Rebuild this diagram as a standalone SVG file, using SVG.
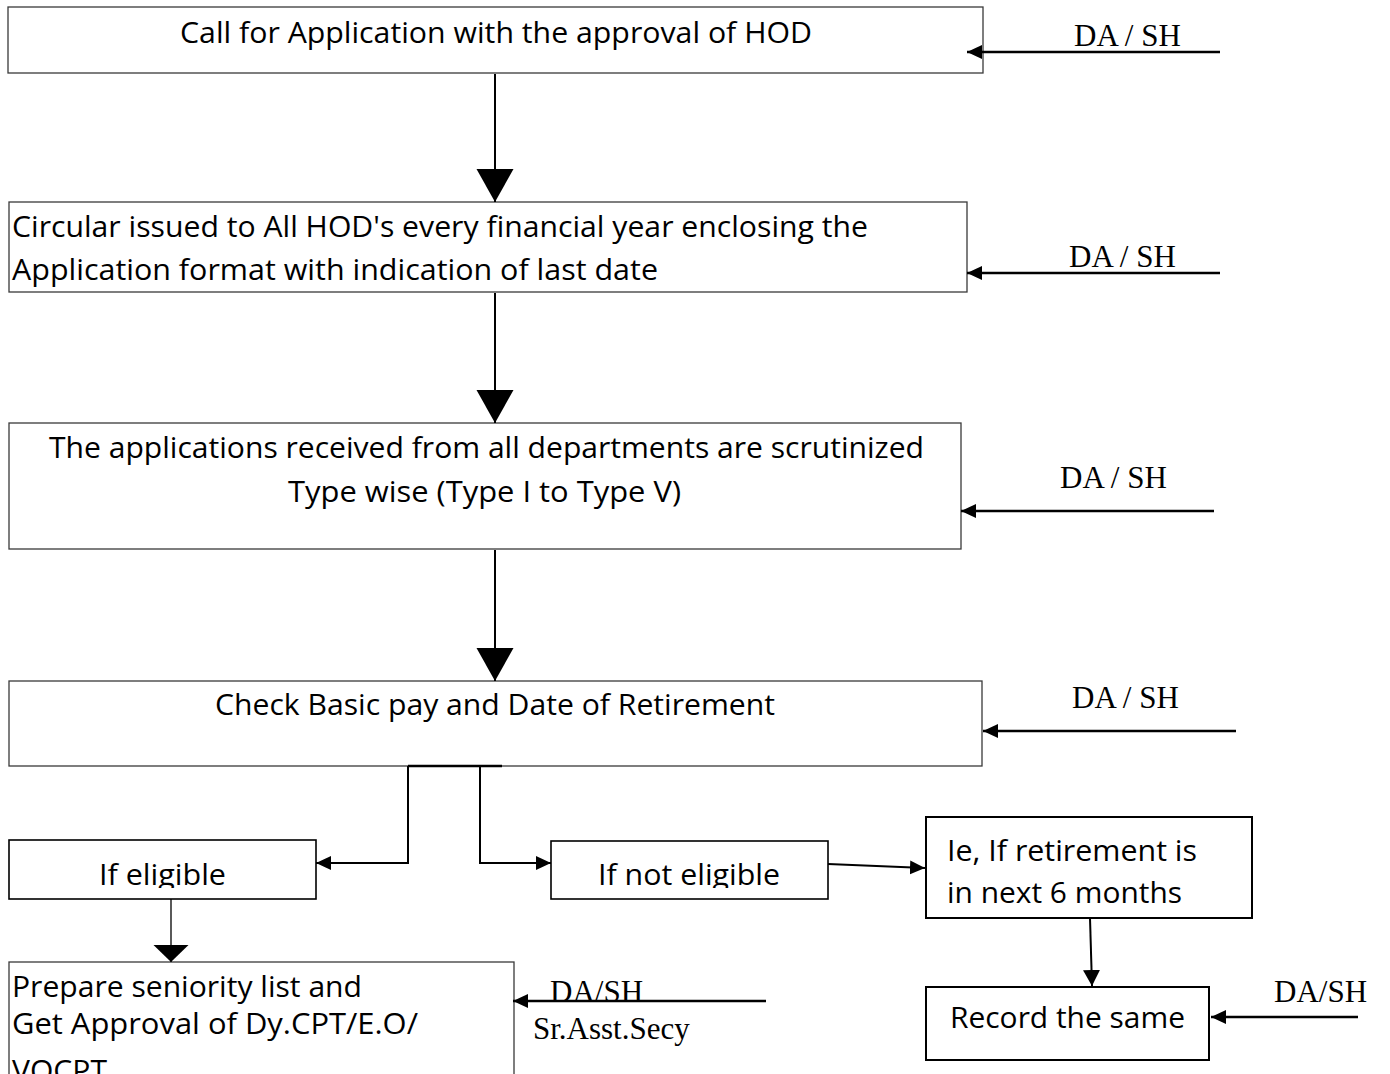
<svg xmlns="http://www.w3.org/2000/svg" width="1390" height="1074" viewBox="0 0 1390 1074">
<style>
.box{fill:#fff;stroke:#3a3a3a;stroke-width:1.3}
.boxb{fill:#fff;stroke:#000;stroke-width:2}
.t{font-family:"Open Sans","Liberation Sans",sans-serif;font-size:30px;fill:#000}
.s{font-family:"Liberation Serif","Times New Roman",serif;font-size:31px;fill:#000}
.c{fill:none;stroke:#000;stroke-width:2}
.cs{fill:none;stroke:#000;stroke-width:2.6}
</style>
<defs>
<marker id="big" markerUnits="userSpaceOnUse" markerWidth="34" markerHeight="38" refX="33" refY="18.5" orient="auto"><path d="M0,0 L33,18.5 L0,37 z" fill="#000"/></marker>
<marker id="med" markerUnits="userSpaceOnUse" markerWidth="18" markerHeight="36" refX="17" refY="17.5" orient="auto"><path d="M0,0 L17,17.5 L0,35 z" fill="#000"/></marker>
<marker id="sm" markerUnits="userSpaceOnUse" markerWidth="17" markerHeight="18" refX="16" refY="8.5" orient="auto"><path d="M0,0 L16,8.5 L0,17 z" fill="#000"/></marker>
<marker id="side" markerUnits="userSpaceOnUse" markerWidth="16" markerHeight="15" refX="15" refY="7" orient="auto"><path d="M0,0 L15,7 L0,14 z" fill="#000"/></marker>
<clipPath id="clipElig"><rect x="0" y="840" width="900" height="48"/></clipPath>
</defs>

<g id="node-call">
<rect class="box" x="8" y="7" width="975" height="66"/>
<text class="t" x="180" y="43" textLength="632" lengthAdjust="spacingAndGlyphs">Call for Application with the approval of HOD</text>
</g>
<g id="node-circular">
<rect class="box" x="9" y="202" width="958" height="90"/>
<text class="t" x="12" y="237" textLength="856" lengthAdjust="spacingAndGlyphs">Circular issued to All HOD's every financial year enclosing the</text>
<text class="t" x="12" y="280" textLength="646" lengthAdjust="spacingAndGlyphs">Application format with indication of last date</text>
</g>
<g id="node-scrutiny">
<rect class="box" x="9" y="423" width="952" height="126"/>
<text class="t" x="49" y="458" textLength="875" lengthAdjust="spacingAndGlyphs">The applications received from all departments are scrutinized</text>
<text class="t" x="288" y="502" textLength="393" lengthAdjust="spacingAndGlyphs">Type wise (Type I to Type V)</text>
</g>
<g id="node-check">
<rect class="box" x="9" y="681" width="973" height="85"/>
<text class="t" x="215" y="715" textLength="560" lengthAdjust="spacingAndGlyphs">Check Basic pay and Date of Retirement</text>
</g>
<g id="node-eligible">
<rect class="boxb" x="9" y="840" width="307" height="59" style="stroke-width:1.6"/>
<text class="t" x="99" y="885" textLength="127" lengthAdjust="spacingAndGlyphs" clip-path="url(#clipElig)">If eligible</text>
</g>
<g id="node-noteligible">
<rect class="boxb" x="551" y="841" width="277" height="58" style="stroke-width:1.6"/>
<text class="t" x="598" y="885" textLength="182" lengthAdjust="spacingAndGlyphs" clip-path="url(#clipElig)">If not eligible</text>
</g>
<g id="node-retirement">
<rect class="boxb" x="926" y="817" width="326" height="101"/>
<text class="t" x="947" y="861" textLength="250" lengthAdjust="spacingAndGlyphs">Ie, If retirement is</text>
<text class="t" x="947" y="903" textLength="235" lengthAdjust="spacingAndGlyphs">in next 6 months</text>
</g>
<g id="node-record">
<rect class="boxb" x="926" y="987" width="283" height="73"/>
<text class="t" x="950" y="1028" textLength="235" lengthAdjust="spacingAndGlyphs">Record the same</text>
</g>
<g id="node-prepare">
<rect class="box" x="9" y="962" width="505" height="140"/>
<text class="t" x="12" y="997" textLength="350" lengthAdjust="spacingAndGlyphs">Prepare seniority list and</text>
<text class="t" x="12" y="1034" textLength="406" lengthAdjust="spacingAndGlyphs">Get Approval of Dy.CPT/E.O/</text>
<text class="t" x="12" y="1081" textLength="95" lengthAdjust="spacingAndGlyphs">VOCPT</text>
</g>

<g id="connectors">
<line class="c" x1="495" y1="74" x2="495" y2="202" marker-end="url(#big)"/>
<line class="c" x1="495" y1="293" x2="495" y2="423" marker-end="url(#big)"/>
<line class="c" x1="495" y1="550" x2="495" y2="681" marker-end="url(#big)"/>
<line class="c" x1="408" y1="766" x2="502" y2="766" style="stroke-width:2.4"/>
<path class="c" d="M408,766 V863 H316" marker-end="url(#side)"/>
<path class="c" d="M480,766 V863 H551" marker-end="url(#side)"/>
<line class="c" x1="171" y1="899" x2="171" y2="962" style="stroke-width:1.3" marker-end="url(#med)"/>
<line class="c" x1="828" y1="864" x2="925" y2="868" marker-end="url(#side)"/>
<line class="c" x1="1090" y1="918" x2="1092" y2="986" marker-end="url(#sm)"/>
<line class="cs" x1="1220" y1="52" x2="967" y2="52" marker-end="url(#side)"/>
<line class="cs" x1="1220" y1="273" x2="967" y2="273" marker-end="url(#side)"/>
<line class="cs" x1="1214" y1="511" x2="961" y2="511" marker-end="url(#side)"/>
<line class="cs" x1="1236" y1="731" x2="983" y2="731" marker-end="url(#side)"/>
<line class="cs" x1="766" y1="1001" x2="513" y2="1001" marker-end="url(#side)"/>
<line class="cs" x1="1358" y1="1017" x2="1211" y2="1017" marker-end="url(#side)"/>
</g>

<g id="labels">
<text class="s" x="1074" y="46">DA / SH</text>
<text class="s" x="1069" y="267">DA / SH</text>
<text class="s" x="1060" y="488">DA / SH</text>
<text class="s" x="1072" y="708">DA / SH</text>
<text class="s" x="550" y="1002">DA/SH</text>
<text class="s" x="533" y="1039">Sr.Asst.Secy</text>
<text class="s" x="1274" y="1002">DA/SH</text>
</g>
</svg>
